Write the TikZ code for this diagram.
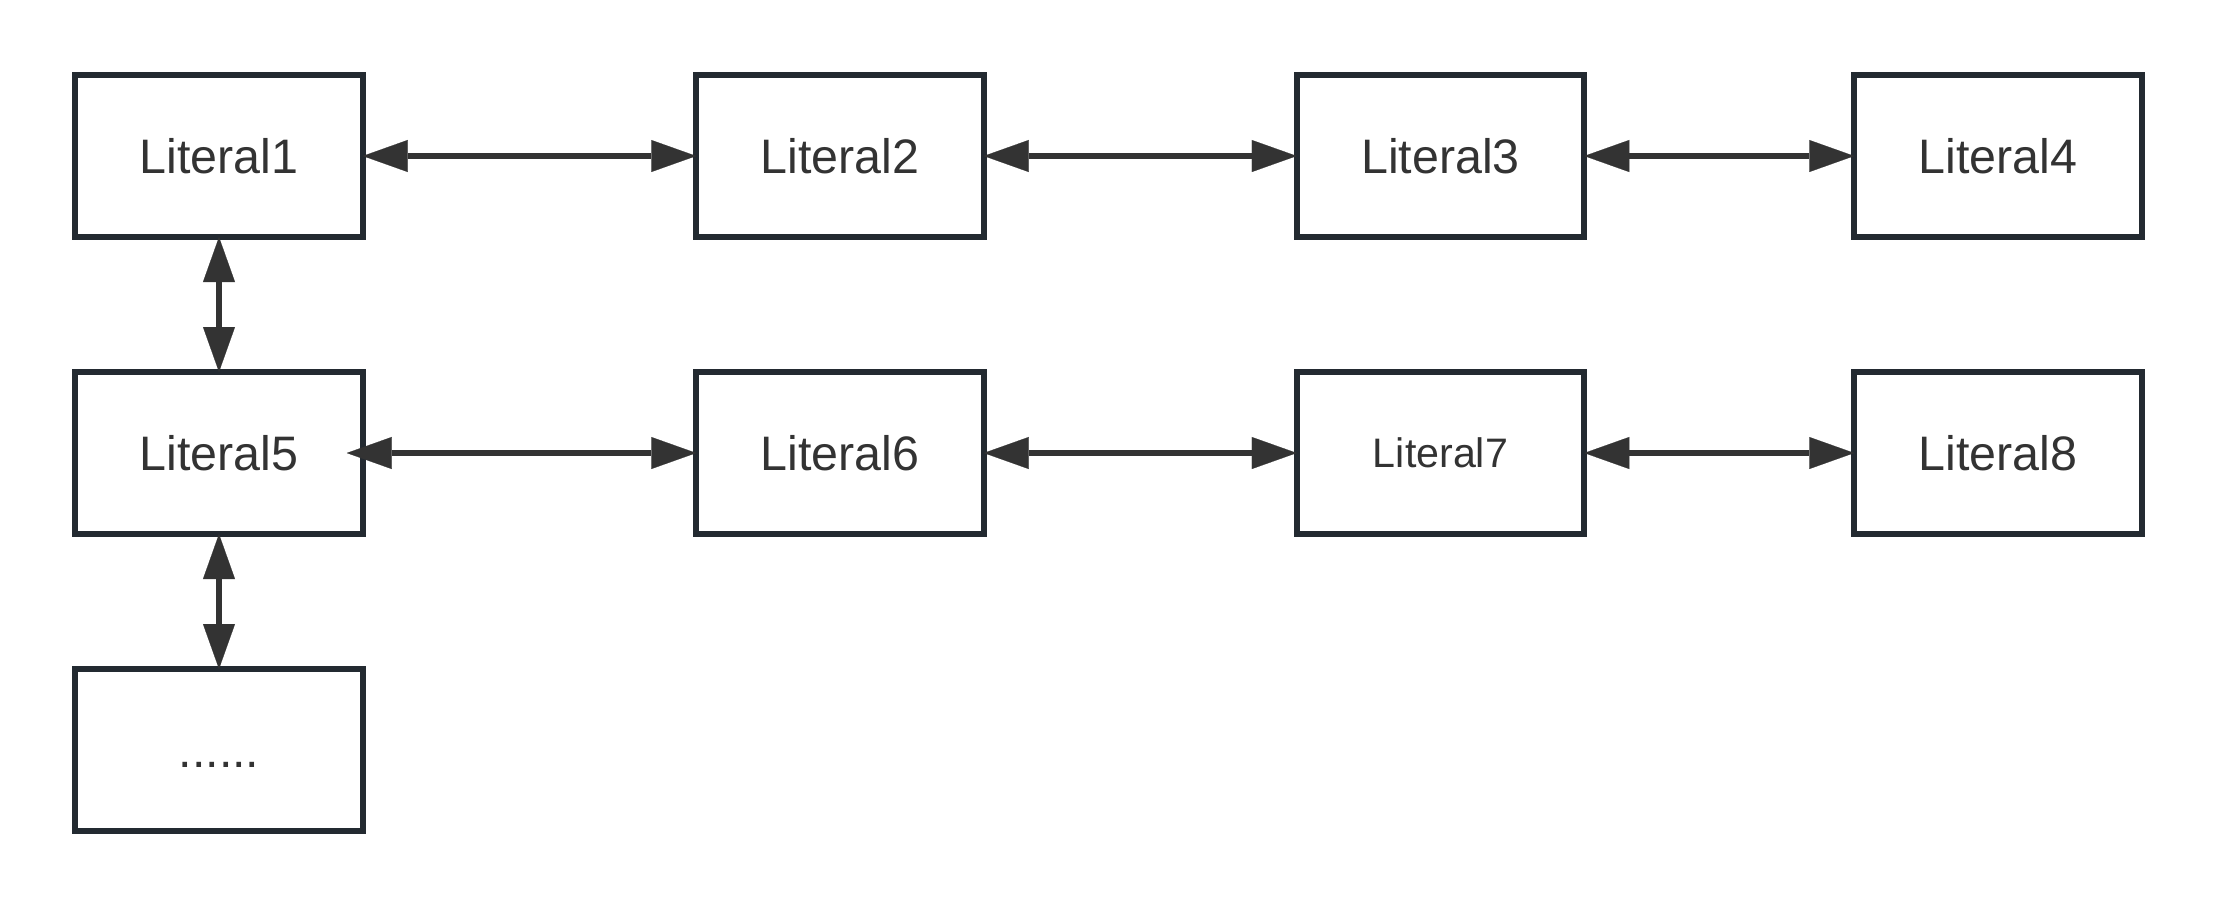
\documentclass[tikz,border=0pt]{standalone}
\usepackage{fontspec}
\setmainfont{Liberation Sans}
\usetikzlibrary{arrows.meta}
\definecolor{boxc}{HTML}{232A31}
\definecolor{arrc}{HTML}{333333}
\definecolor{txtc}{HTML}{333333}
\tikzset{
  litbox/.style={draw=boxc, line width=3pt, rectangle, minimum width=143.75pt,
    minimum height=81pt, inner sep=0pt, outer sep=0pt, text=txtc,
    font=\fontsize{24.2pt}{29pt}\selectfont, text height=17.3pt, text depth=0pt},
  smalltext/.style={font=\fontsize{20.6pt}{25pt}\selectfont, text height=14.7pt},
  link/.style={draw=arrc, line width=3.2pt,
    {Triangle[length=22.5pt,width=16pt,line width=0.1pt]}-{Triangle[length=22.5pt,width=16pt,line width=0.1pt]}}
}
\begin{document}
\begin{tikzpicture}[x=0.5pt,y=-0.5pt]
\useasboundingbox (0,0) rectangle (2217,906);
\node[litbox] (n1) at (219,156) {Literal1};
\node[litbox] (n2) at (840,156) {Literal2};
\node[litbox] (n3) at (1440.5,156) {Literal3};
\node[litbox] (n4) at (1998,156) {Literal4};
\node[litbox] (n5) at (219,453) {Literal5};
\node[litbox] (n6) at (840,453) {Literal6};
\node[litbox,smalltext] (n7) at (1440.5,453) {Literal7};
\node[litbox] (n8) at (1998,453) {Literal8};
\node[litbox] (n9) at (219,750) {......};
\draw[link] (n1) -- (n2);
\draw[link] (n2) -- (n3);
\draw[link] (n3) -- (n4);
\draw[link, shorten <=-8pt] (n5) -- (n6);
\draw[link] (n6) -- (n7);
\draw[link] (n7) -- (n8);
\draw[link] (n1) -- (n5);
\draw[link] (n5) -- (n9);
\end{tikzpicture}
\end{document}
